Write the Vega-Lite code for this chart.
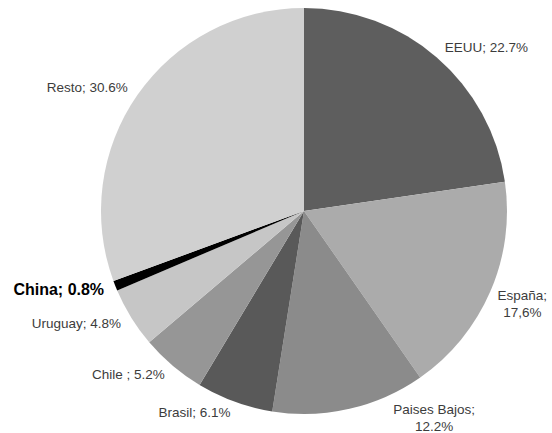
{
  "$schema": "https://vega.github.io/schema/vega-lite/v6.json",
  "width": 496,
  "height": 422,
  "autosize": {"type": "none"},
  "padding": {"left": 56, "top": 0, "right": 0, "bottom": 11},
  "background": "white",
  "view": {"stroke": null},
  "data": {
    "values": [
      {"idx": 1, "name": "EEUU", "share": 22.7, "label": "EEUU; 22.7%"},
      {"idx": 2, "name": "España", "share": 17.6, "label": ["España;", "17,6%"]},
      {"idx": 3, "name": "Paises Bajos", "share": 12.2, "label": ["Paises Bajos;", "12.2%"]},
      {"idx": 4, "name": "Brasil", "share": 6.1, "label": "Brasil; 6.1%"},
      {"idx": 5, "name": "Chile", "share": 5.2, "label": "Chile ; 5.2%"},
      {"idx": 6, "name": "Uruguay", "share": 4.8, "label": "Uruguay; 4.8%"},
      {"idx": 7, "name": "China", "share": 0.8, "label": "China; 0.8%"},
      {"idx": 8, "name": "Resto", "share": 30.6, "label": "Resto; 30.6%"}
    ]
  },
  "encoding": {
    "theta": {"field": "share", "type": "quantitative", "stack": true, "scale": {"domain": [0, 100]}},
    "order": {"field": "idx", "type": "quantitative", "sort": "ascending"}
  },
  "layer": [
    {
      "mark": {"type": "arc", "outerRadius": 203, "stroke": null},
      "encoding": {
        "color": {
          "field": "name",
          "type": "nominal",
          "legend": null,
          "scale": {
            "domain": ["EEUU", "España", "Paises Bajos", "Brasil", "Chile", "Uruguay", "China", "Resto"],
            "range": ["#5e5e5e", "#ababab", "#8b8b8b", "#595959", "#969696", "#c6c6c6", "#000000", "#d0d0d0"]
          }
        }
      }
    },
    {
      "mark": {
        "type": "text",
        "radius": 215,
        "font": "Liberation Sans",
        "baseline": "middle",
        "lineHeight": 17,
        "align": {"expr": "isArray(datum.label) ? 'center' : ((datum.share_start + datum.share_end) / 2 > 50 ? 'right' : 'left')"},
        "fontWeight": {"expr": "datum.name === 'China' ? 'bold' : 'normal'"},
        "dx": {"expr": "datum.name === 'Paises Bajos' ? 82 : (datum.name === 'España' ? 21 : 0)"},
        "dy": {"expr": "datum.name === 'Paises Bajos' ? -11 : 0"}
      },
      "encoding": {
        "text": {"field": "label"},
        "size": {"condition": {"test": "datum.name === 'China'", "value": 16}, "value": 13.5},
        "color": {"condition": {"test": "datum.name === 'China'", "value": "#000000"}, "value": "#3c3c3c"}
      }
    }
  ]
}
